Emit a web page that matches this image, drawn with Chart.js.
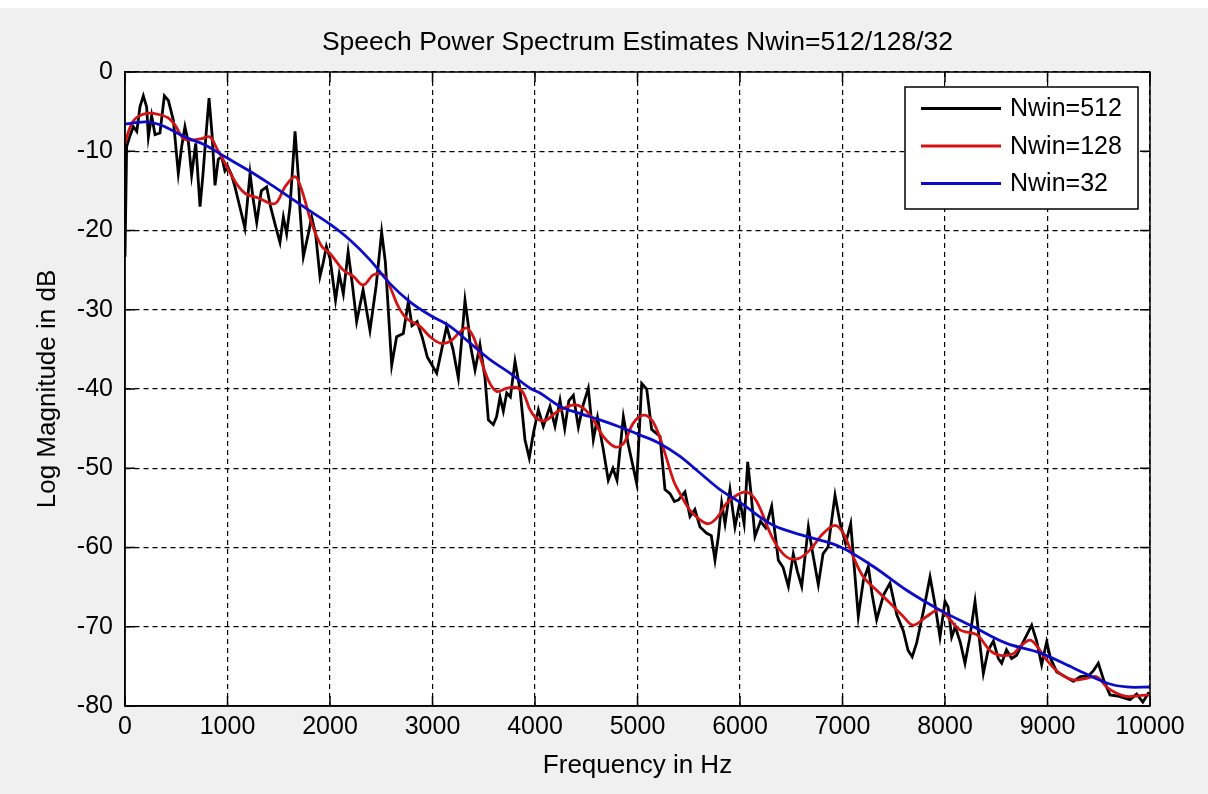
<!DOCTYPE html>
<html lang="en">
<head>
  <meta charset="UTF-8">
  <title>Speech Power Spectrum Estimates</title>
  <script src="https://cdn.jsdelivr.net/npm/chart.js"></script>
  <style>
    html, body { margin: 0; padding: 0; background: #f0f0f0; }
  </style>
</head>
<body>
  <canvas id="spec" width="1208" height="794"></canvas>
  <script>
    // Nwin=512 (black), values
    const freq512 = [0,16,50,81,115,146,179,211,228,260,293,341,384,423,472,520,553,585,620,650,690,732,760,790,820,850,878,910,943,975,
      1005,1040,1073,1120,1170,1220,1250,1285,1330,1382,1420,1470,1512,1545,1577,1610,1659,1690,1707,1740,1789,1821,1860,1902,1935,1965,
      2000,2054,2090,2130,2177,2220,2260,2323,2390,2450,2504,2540,2602,2650,2715,2764,2800,2850,2900,2950,
      3041,3090,3138,3200,3252,3290,3317,3350,3366,3415,3463,3512,3545,3593,3625,3659,3691,3724,3760,3805,3854,3902,3944,3984,
      4033,4081,4146,4195,4244,4290,4330,4374,4423,4470,4520,4569,4610,4667,4715,4760,4800,4862,4910,4992,
      5041,5090,5138,5220,5268,5317,5360,5400,5463,5512,5560,5610,5675,5720,5756,5790,5821,5854,5902,5951,
      6000,6040,6075,6110,6146,6200,6250,6309,6374,6420,6472,6520,6560,6602,6667,6710,6764,6810,6860,6927,6976,
      7030,7080,7154,7203,7252,7290,7333,7400,7463,7530,7593,7640,7680,7724,7790,7854,7900,7951,
      8000,8030,8065,8100,8150,8195,8240,8293,8330,8374,8420,8472,8520,8553,8600,8650,8699,8760,8846,8894,8943,8992,
      9030,9090,9160,9252,9320,9400,9450,9496,9550,9610,9700,9805,9870,9930,9984,10000];
    const db512 = [-23.3,-9.4,-8,-6.9,-7.5,-4.4,-3.0,-4.4,-8.2,-5.5,-7.9,-7.7,-3.0,-3.6,-6.1,-12.8,-9.4,-6.9,-9,-13,-9,-17,-13,-8,-3.3,-8,-14.3,-11,-10.7,-12.5,
      -12,-13,-14.5,-17,-19.7,-12.8,-16,-19,-15,-14.5,-17,-19.5,-21.5,-18.3,-20.4,-17,-7.5,-13,-17.4,-23.3,-20.4,-18.3,-20.5,-25.8,-24,-22,
      -23.5,-28.8,-25.5,-28,-22.7,-27,-31.5,-27.5,-32.6,-27,-20.2,-24,-37,-33.4,-33,-29,-32,-31.5,-33.5,-36,
      -38,-35,-32.1,-35,-38.6,-33,-28.8,-32,-34.2,-37.6,-34.4,-38.6,-43.9,-44.5,-43.5,-41,-42.8,-40.5,-41,-36.5,-40.1,-46.4,-48.7,-45.6,
      -42.6,-44.7,-42.2,-44.7,-41.4,-45,-41.5,-40.8,-44.8,-42,-39.9,-46.4,-43.6,-47.7,-51.5,-50,-51.5,-43.5,-47,-51.9,
      -39.3,-40,-45.1,-46,-52.7,-53.2,-54.2,-54,-53,-56.1,-55.2,-57.4,-58.2,-58.5,-61.6,-58.5,-54.4,-57,-52.7,-57.4,
      -54.2,-57,-49.2,-53.5,-58.6,-56.7,-57.5,-54.8,-61.6,-62.5,-64.9,-60.8,-63,-64.9,-57.4,-60.8,-64.7,-60.8,-59.9,-53.4,-56.9,
      -59.5,-57,-68.7,-64.2,-62.4,-66,-69.1,-66,-64.5,-68.5,-70.5,-73,-73.8,-72,-68,-63.7,-67,-71.3,
      -66.8,-67.5,-71.3,-70,-72,-74.6,-71.5,-66.8,-71,-75.9,-73,-71.8,-74,-74.6,-72.9,-74,-73.6,-72,-69.8,-71.8,-74.8,-71.9,
      -74,-75.7,-76.2,-76.9,-76.3,-76.2,-75.5,-74.6,-76.8,-78.6,-78.8,-79.2,-78.5,-79.5,-78.4,-78.5];

    // Nwin=128 (red)
    const freq128 = [0,40,80,130,228,325,423,488,569,650,748,829,894,976,1073,1171,1301,1463,1561,1659,1724,1821,1919,
      2000,2130,2228,2325,2423,2520,2585,2667,2748,2878,2976,3073,3171,3268,3333,3398,3463,3545,3626,3724,3821,3886,3951,
      4016,4098,4212,4374,4472,4569,4667,4780,4862,4959,5057,5138,5203,5268,5350,5415,5512,5610,5691,5772,5870,5967,
      6065,6163,6325,6455,6569,6683,6813,6927,7008,7106,7203,7333,7463,7593,7691,7821,7951,
      8146,8309,8439,8537,8666,8732,8829,8894,8992,9122,9252,9382,9480,9577,9675,9772,9900,10000];
    const db128 = [-9,-7.3,-6.2,-5.6,-5.2,-5.35,-5.8,-6.7,-8.4,-8.6,-8.4,-8.2,-9.6,-11.5,-13.8,-15.3,-15.9,-16.6,-14.5,-13.2,-14.9,-19.1,-22,
      -22.9,-25,-25.8,-26.9,-25.6,-25.6,-27.1,-29.6,-31.1,-32.1,-33.4,-34.2,-34,-32.8,-32.3,-33.4,-35.9,-38.9,-40.3,-39.9,-39.8,-40.5,-42.6,
      -43.7,-44,-42.9,-42,-42.4,-43.9,-46,-47.3,-46.9,-44.3,-43.3,-43.9,-45.6,-48.1,-51.5,-53.2,-55.3,-56.5,-57,-56.3,-54.4,-53.4,
      -53,-54.2,-59,-61.2,-61.4,-60.3,-58.2,-57.2,-58.2,-61.2,-63.7,-65.4,-67,-68.7,-69.8,-68.7,-67.9,
      -70.4,-71,-73,-73.6,-73.4,-72.5,-71.7,-72.4,-74.2,-75.9,-76.7,-76.5,-76.3,-77.6,-78.4,-78.8,-78.7,-78.6];

    // Nwin=32 (blue)
    const freq32 = [0,100,205,300,390,585,780,976,1203,1398,1593,1789,2000,2195,2390,2585,2780,2976,3171,3366,3561,3756,3951,
      4049,4244,4439,4634,4829,5024,5220,5415,5610,5805,6000,6325,6650,6976,7301,7626,7951,8276,8602,8927,9252,9577,9772,10000];
    const db32 = [-6.6,-6.4,-6.3,-6.5,-6.9,-8.2,-9.2,-10.7,-12.4,-14,-15.7,-17.4,-19.2,-21.2,-23.7,-26.7,-29,-30.7,-32.1,-34.2,-36.3,-38,-39.9,
      -40.5,-42.2,-43.1,-43.9,-44.8,-45.8,-46.9,-48.5,-50.6,-52.7,-54.3,-57.2,-58.6,-59.9,-62.4,-65.4,-67.9,-70,-72.1,-73.3,-75.2,-77.1,-77.6,-77.6];

    const seriesNames = ['Nwin=512', 'Nwin=128', 'Nwin=32'];
    const seriesColors = ['#000000', '#d41414', '#0c0cc8'];
    const xTickValues = [0,1000,2000,3000,4000,5000,6000,7000,8000,9000,10000];
    const yTickValues = [0,-10,-20,-30,-40,-50,-60,-70,-80];

    const FONT = '"Liberation Sans", Arial, Helvetica, sans-serif';

    function pts(xs, ys) {
      return xs.map((x, i) => ({ x: x, y: ys[i] }));
    }

    // matlab style frame: grey figure, white axes, inward ticks, legend box
    const matlabFrame = {
      id: 'matlabFrame',
      beforeDraw(chart) {
        const { ctx, chartArea: a } = chart;
        ctx.save();
        ctx.fillStyle = '#f0f0f0';
        ctx.fillRect(0, 0, chart.width, chart.height);
        ctx.fillStyle = '#ffffff';
        ctx.fillRect(0, 0, chart.width, 8);
        ctx.fillRect(a.left, a.top, a.right - a.left, a.bottom - a.top);
        ctx.restore();
      },
      afterDatasetsDraw(chart) {
        const { ctx, chartArea: a, scales } = chart;
        const tl = 10;
        ctx.save();
        ctx.strokeStyle = '#000';
        ctx.lineWidth = 1.5;
        ctx.setLineDash([]);
        ctx.beginPath();
        scales.x.ticks.forEach(t => {
          const p = scales.x.getPixelForValue(t.value);
          ctx.moveTo(p, a.bottom); ctx.lineTo(p, a.bottom - tl);
          ctx.moveTo(p, a.top); ctx.lineTo(p, a.top + tl);
        });
        scales.y.ticks.forEach(t => {
          const p = scales.y.getPixelForValue(t.value);
          ctx.moveTo(a.left, p); ctx.lineTo(a.left + tl, p);
          ctx.moveTo(a.right, p); ctx.lineTo(a.right - tl, p);
        });
        ctx.stroke();
        ctx.strokeRect(a.left, a.top, a.right - a.left, a.bottom - a.top);

        // legend
        const bw = 233, bh = 122;
        const bx = a.right - 12 - bw, by = a.top + 15;
        ctx.fillStyle = '#fff';
        ctx.fillRect(bx, by, bw, bh);
        ctx.strokeRect(bx, by, bw, bh);
        ctx.font = '25px ' + FONT;
        ctx.textBaseline = 'middle';
        ctx.textAlign = 'left';
        chart.data.datasets.forEach((ds, i) => {
          const yy = by + 21.5 + i * 37.5;
          ctx.strokeStyle = ds.borderColor;
          ctx.lineWidth = 3;
          ctx.beginPath();
          ctx.moveTo(bx + 16, yy);
          ctx.lineTo(bx + 96, yy);
          ctx.stroke();
          ctx.fillStyle = '#000';
          ctx.fillText(ds.label, bx + 105, yy + 1);
        });
        ctx.restore();
      }
    };

    const ctx = document.getElementById('spec').getContext('2d');
    const specChart = new Chart(ctx, {
      type: 'line',
      data: {
        datasets: [
          { label: seriesNames[0], data: pts(freq512, db512), borderColor: seriesColors[0], borderWidth: 2.8, tension: 0, order: 3 },
          { label: seriesNames[1], data: pts(freq128, db128), borderColor: seriesColors[1], borderWidth: 2.8, tension: 0.35, order: 2 },
          { label: seriesNames[2], data: pts(freq32, db32), borderColor: seriesColors[2], borderWidth: 2.8, tension: 0.35, order: 1 }
        ]
      },
      options: {
        responsive: false,
        animation: false,
        elements: { point: { radius: 0 } },
        layout: { padding: { left: 28, right: 58, top: 0, bottom: 9 } },
        plugins: {
          legend: { display: false },
          tooltip: { enabled: false },
          title: {
            display: true,
            fullSize: false,
            text: 'Speech Power Spectrum Estimates Nwin=512/128/32',
            color: '#000',
            font: { family: FONT, size: 26.5, weight: 'normal' },
            padding: { top: 27, bottom: 13.2 }
          }
        },
        scales: {
          x: {
            type: 'linear',
            min: 0,
            max: 10000,
            afterBuildTicks: s => { s.ticks = xTickValues.map(v => ({ value: v })); },
            afterFit: s => { s.height = 79; },
            ticks: {
              autoSkip: false, maxRotation: 0, padding: 6, color: '#000',
              font: { family: FONT, size: 25 },
              callback: v => String(v)
            },
            grid: { color: '#000', lineWidth: 1.2, drawTicks: false },
            border: { display: true, color: '#000', width: 1.5, dash: [5, 4] },
            title: {
              display: true, text: 'Frequency in Hz', color: '#000',
              font: { family: FONT, size: 26 }, padding: { top: 4, bottom: 4 }
            }
          },
          y: {
            type: 'linear',
            min: -80,
            max: 0,
            afterBuildTicks: s => { s.ticks = yTickValues.map(v => ({ value: v })); },
            afterFit: s => { s.width = 97; },
            ticks: {
              autoSkip: false, padding: 12, color: '#000',
              font: { family: FONT, size: 25 },
              callback: v => String(v)
            },
            grid: { color: '#000', lineWidth: 1.2, drawTicks: false },
            border: { display: true, color: '#000', width: 1.5, dash: [5, 4] },
            title: {
              display: true, text: 'Log Magnitude in dB', color: '#000',
              font: { family: FONT, size: 26 }, padding: { top: 4, bottom: 4 }
            }
          }
        }
      },
      plugins: [matlabFrame]
    });
  </script>
</body>
</html>
